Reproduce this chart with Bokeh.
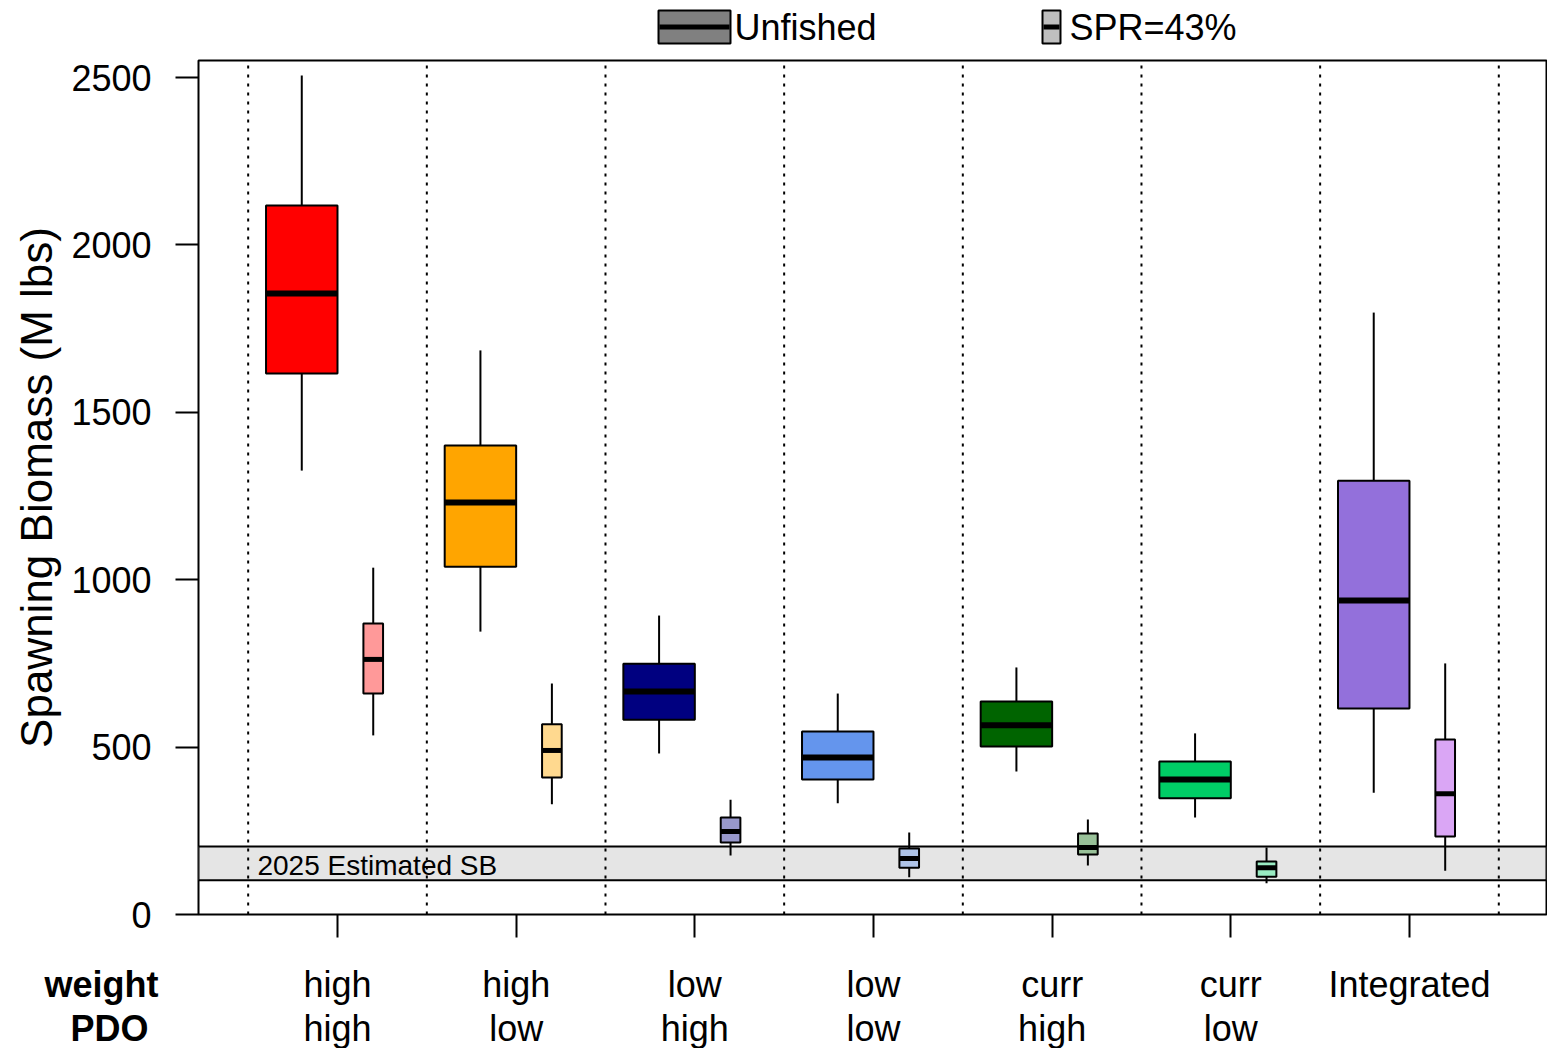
from bokeh.plotting import figure
from bokeh.models import Range1d, FixedTicker, BoxAnnotation, ColumnDataSource
from bokeh.layouts import column
from bokeh.core.properties import value
from bokeh.embed import file_html
from bokeh.resources import INLINE

# ---------------- data ----------------
weights = ["high", "high", "low", "low", "curr", "curr", "Integrated"]
pdos = ["high", "low", "high", "low", "high", "low", ""]
unfished_colors = ["#FF0000", "#FFA500", "#000080", "#6495ED", "#006400", "#00CD66", "#9370DB"]
spr_colors = ["#FF9999", "#FFD98F", "#9999CC", "#AFC4E8", "#99C199", "#99EBC2", "#DAA6F5"]

unf_whisk_hi = [2506, 1685, 893, 660, 738, 541, 1798]
unf_q3 = [2118, 1401, 749, 547, 636, 457, 1296]
unf_med = [1855, 1231, 666, 469, 565, 403, 938]
unf_q1 = [1616, 1039, 582, 403, 502, 347, 615]
unf_whisk_lo = [1326, 845, 481, 332, 427, 290, 364]

spr_whisk_hi = [1036, 690, 343, 245, 284, 200, 750]
spr_q3 = [869, 568, 290, 197, 242, 158, 523]
spr_med = [762, 490, 248, 167, 200, 140, 361]
spr_q1 = [660, 409, 215, 140, 179, 113, 233]
spr_whisk_lo = [535, 329, 176, 111, 146, 93, 131]

sb_2025_low = 102
sb_2025_high = 203
y_ticks = [0, 500, 1000, 1500, 2000, 2500]
legend_labels = ["Unfished", "SPR=43%"]
legend_fills = ["#808080", "#BFBFBF"]
row_titles = ["weight", "PDO"]

FONT = "Liberation Sans"
NBSP = "\u00a0"

groups = list(range(1, len(weights) + 1))
off = 0.2
unf_x = [g - off for g in groups]
spr_x = [g + off for g in groups]
dividers = [g - 0.5 for g in groups] + [groups[-1] + 0.5]

# ---------------- layout constants (pixels) ----------------
W = 1547
TOP_H = 50          # key strip
FRAME_L, FRAME_R = 198, 1
FRAME_T, FRAME_H, FRAME_B = 10, 854, 25
BOT_H = 1048 - TOP_H - (FRAME_T + FRAME_H + FRAME_B)
X0, X1 = 0.222, 7.767
Y_TOP = 2551


def bare(fig):
    fig.grid.visible = False
    fig.outline_line_color = None
    fig.background_fill_color = "white"
    fig.border_fill_color = "white"


# ================= key strip (frame aligned with the main frame) =================
top = figure(width=W, height=TOP_H, x_range=Range1d(FRAME_L, W - FRAME_R),
             y_range=Range1d(TOP_H, 0),
             output_backend="svg", toolbar_location=None,
             x_axis_location=None, y_axis_location=None,
             min_border_left=FRAME_L, min_border_right=FRAME_R,
             min_border_top=0, min_border_bottom=0)
bare(top)
key_left = [658, 1042]
key_right = [730, 1060]
key_text_gap = [4, 9]
key_top, key_bot = 10, 43
key_mid = (key_top + key_bot) / 2
top.quad(left=key_left, right=key_right, top=[key_top] * 2, bottom=[key_bot] * 2,
         fill_color=legend_fills, line_color="black", line_width=2)
top.rect(x=[(l + r) / 2 for l, r in zip(key_left, key_right)], y=[key_mid] * 2,
         width=[r - l - 2 for l, r in zip(key_left, key_right)], height=[5, 5],
         fill_color="black", line_color=None)
top.text(x=[r + g for r, g in zip(key_right, key_text_gap)], y=[key_mid + 0.5] * 2,
         text=legend_labels, text_font=value(FONT), text_font_size="36px",
         text_align="left", text_baseline="middle", text_color="black")

# ================= main plot =================
p = figure(width=W, height=FRAME_T + FRAME_H + FRAME_B,
           x_range=Range1d(X0, X1), y_range=Range1d(0, Y_TOP),
           output_backend="svg", toolbar_location=None,
           min_border_left=FRAME_L, min_border_right=FRAME_R,
           min_border_top=FRAME_T, min_border_bottom=FRAME_B)
p.grid.visible = False
p.outline_line_color = "black"
p.outline_line_width = 2
p.outline_line_alpha = 1
p.background_fill_color = "white"
p.border_fill_color = "white"

p.yaxis.ticker = FixedTicker(ticks=y_ticks)
p.xaxis.ticker = FixedTicker(ticks=groups)
for ax in (p.xaxis, p.yaxis):
    ax.axis_line_color = None
    ax.major_tick_line_color = "black"
    ax.major_tick_line_width = 2
    ax.major_tick_out = 23
    ax.major_tick_in = 0
    ax.minor_tick_line_color = None
    ax.major_label_text_font = FONT
    ax.major_label_text_color = "black"
p.yaxis.major_label_text_font_size = "36px"
p.yaxis.major_label_standoff = 24
p.xaxis.major_label_overrides = {g: "" for g in groups}
p.xaxis.major_label_text_font_size = "0px"
p.xaxis.major_label_standoff = 0
p.yaxis.axis_label = "Spawning Biomass (M lbs)"
p.yaxis.axis_label_text_font = FONT
p.yaxis.axis_label_text_font_size = "44px"
p.yaxis.axis_label_text_font_style = "normal"
p.yaxis.axis_label_text_color = "black"
p.yaxis.axis_label_standoff = 7

band = BoxAnnotation(bottom=sb_2025_low, top=sb_2025_high, fill_color="#E5E5E5",
                     fill_alpha=1, line_color="black", line_alpha=1, line_width=2,
                     level="underlay")
p.add_layout(band)
p.text(x=[0.552], y=[(sb_2025_low + sb_2025_high) / 2 - 6], text=["2025 Estimated SB"],
       text_font=value(FONT), text_font_size="28px", text_align="left",
       text_baseline="middle", text_color="black")

p.segment(x0=dividers, y0=[0] * len(dividers), x1=dividers, y1=[Y_TOP] * len(dividers),
          line_color="black", line_width=2, line_dash="3 6")

p.segment(x0=unf_x, y0=unf_q3, x1=unf_x, y1=unf_whisk_hi, line_color="black", line_width=2)
p.segment(x0=unf_x, y0=unf_q1, x1=unf_x, y1=unf_whisk_lo, line_color="black", line_width=2)
p.segment(x0=spr_x, y0=spr_q3, x1=spr_x, y1=spr_whisk_hi, line_color="black", line_width=2)
p.segment(x0=spr_x, y0=spr_q1, x1=spr_x, y1=spr_whisk_lo, line_color="black", line_width=2)

unf_src = ColumnDataSource(dict(x=unf_x, q1=unf_q1, q3=unf_q3, med=unf_med, c=unfished_colors))
spr_src = ColumnDataSource(dict(x=spr_x, q1=spr_q1, q3=spr_q3, med=spr_med, c=spr_colors))
p.vbar(x="x", width=0.4, top="q3", bottom="q1", fill_color="c", line_color="black",
       line_width=2, source=unf_src)
p.vbar(x="x", width=0.11, top="q3", bottom="q1", fill_color="c", line_color="black",
       line_width=2, source=spr_src)
p.rect(x="x", y="med", width=0.4, height=6, height_units="screen", fill_color="black",
       line_color=None, source=unf_src)
p.rect(x="x", y="med", width=0.11, height=5, height_units="screen", fill_color="black",
       line_color=None, source=spr_src)

# ================= category labels strip (same x range as the main plot) =================
bot = figure(width=W, height=BOT_H, x_range=p.x_range, y_range=Range1d(BOT_H, 0),
             output_backend="svg", toolbar_location=None,
             x_axis_location=None, y_axis_location="left",
             min_border_left=FRAME_L, min_border_right=FRAME_R,
             min_border_top=0, min_border_bottom=0)
bare(bot)
ROW1, ROW2 = 45, 89
bot.text(x=groups, y=[ROW1] * len(groups), text=weights,
         text_font=value(FONT), text_font_size="36px", text_align="center",
         text_baseline="middle", text_color="black")
g2 = [g for g, d in zip(groups, pdos) if d]
bot.text(x=g2, y=[ROW2] * len(g2), text=[d for d in pdos if d],
         text_font=value(FONT), text_font_size="36px", text_align="center",
         text_baseline="middle", text_color="black")
# row titles ("weight" / "PDO") as the tick labels of this strip's left axis
bot.yaxis.ticker = FixedTicker(ticks=[ROW1, ROW2])
bot.yaxis.major_label_overrides = {ROW1: row_titles[0], ROW2: row_titles[1] + NBSP}
bot.yaxis.axis_line_color = None
bot.yaxis.major_tick_line_color = None
bot.yaxis.major_tick_out = 0
bot.yaxis.major_tick_in = 0
bot.yaxis.minor_tick_line_color = None
bot.yaxis.major_label_standoff = 40
bot.yaxis.major_label_text_font = FONT
bot.yaxis.major_label_text_font_size = "36px"
bot.yaxis.major_label_text_font_style = "bold"
bot.yaxis.major_label_text_color = "black"

layout = column(top, p, bot, spacing=0)
open("out.html", "w").write(file_html(layout, INLINE))
